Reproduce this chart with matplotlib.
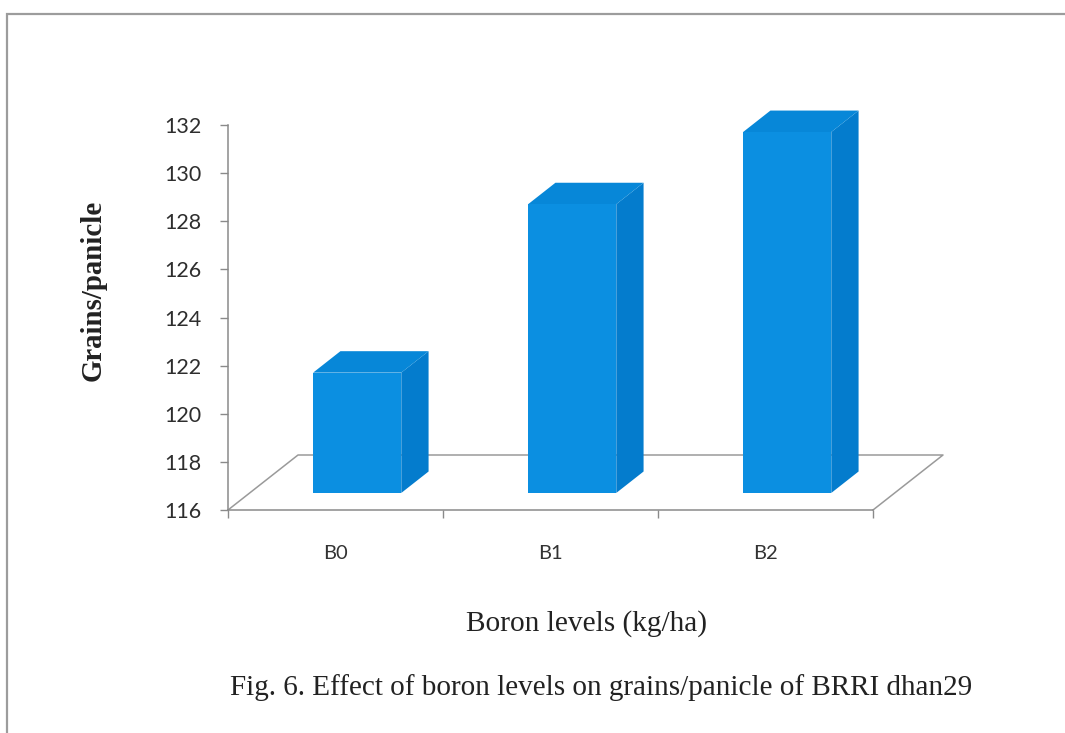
import matplotlib
matplotlib.use("Agg")
import matplotlib.pyplot as plt
from matplotlib.patches import Rectangle
import matplotlib.transforms as mtransforms
import numpy as np

# Data
categories = ["B0", "B1", "B2"]
grains_per_panicle = [121, 128, 131]
y_ticks = [116, 118, 120, 122, 124, 126, 128, 130, 132]
BASE = 116

# Colours
FRONT = "#0B8FE1"
SIDE = "#047CCD"
TOP = "#0787D8"
AXIS_GREY = "#8A8A8A"

W, H, DPI = 1065, 733, 100
fig = plt.figure(figsize=(W / DPI, H / DPI), dpi=DPI, facecolor="white")

# Axes rectangle (front floor edge to top tick)
ax_l, ax_r, ax_t, ax_b = 228, 873, 125, 510
ax = fig.add_axes([ax_l / W, 1 - ax_b / H, (ax_r - ax_l) / W, (ax_b - ax_t) / H])
ax.set_facecolor("none")
ax.set_xlim(-0.5, len(categories) - 0.5)
ax.set_ylim(BASE, 132)

# Depth of the pseudo-3D floor, in pixels (right, up)
DEPTH_DX, DEPTH_DY = 70, 55
BAR_FRONT, BAR_BACK = 0.31, 0.70
BAR_W = 0.41

px_x = (ax_r - ax_l) / (ax.get_xlim()[1] - ax.get_xlim()[0])
px_y = (ax_b - ax_t) / (ax.get_ylim()[1] - ax.get_ylim()[0])


def shift(x, y, d):
    """Move a data point back into the scene by depth fraction d."""
    return x + d * DEPTH_DX / px_x, y + d * DEPTH_DY / px_y


def depth_transform(d):
    return ax.transData + mtransforms.ScaledTranslation(
        d * DEPTH_DX / DPI, d * DEPTH_DY / DPI, fig.dpi_scale_trans)


x = np.arange(len(categories))
x0, x1 = ax.get_xlim()

# Floor outline
floor = [shift(x1, BASE, 0), shift(x1, BASE, 1), shift(x0, BASE, 1), shift(x0, BASE, 0)]
fx, fy = zip(*floor)
ax.plot(fx, fy, color="#9A9A9A", lw=1.1, clip_on=False, zorder=1)

# Bars: side and top faces, then the front face
for xi, v in zip(x, grains_per_panicle):
    xl, xr = xi - BAR_W / 2, xi + BAR_W / 2
    side = [shift(xr, BASE, BAR_FRONT), shift(xr, v, BAR_FRONT),
            shift(xr, v, BAR_BACK), shift(xr, BASE, BAR_BACK)]
    top = [shift(xl, v, BAR_FRONT), shift(xr, v, BAR_FRONT),
           shift(xr, v, BAR_BACK), shift(xl, v, BAR_BACK)]
    sx, sy = zip(*side)
    tx, ty = zip(*top)
    ax.fill(sx, sy, color=SIDE, lw=0, clip_on=False, zorder=2)
    ax.fill(tx, ty, color=TOP, lw=0, clip_on=False, zorder=2)

heights = [v - BASE for v in grains_per_panicle]
ax.bar(x, heights, bottom=BASE, width=BAR_W, color=FRONT, linewidth=0,
       transform=depth_transform(BAR_FRONT), clip_on=False, zorder=3)

# Axes styling
for s in ["top", "right"]:
    ax.spines[s].set_visible(False)
for s in ["left", "bottom"]:
    ax.spines[s].set_color(AXIS_GREY)
    ax.spines[s].set_linewidth(1.1)

ax.set_yticks(y_ticks)
ax.set_yticklabels([str(t) for t in y_ticks], fontfamily="Lato", fontsize=15.5,
                   color="#2E2E2E")
ax.tick_params(axis="y", direction="out", length=6, width=1.0, color=AXIS_GREY, pad=13)

ax.set_xticks(np.arange(-0.5, len(categories), 1.0))
ax.set_xticklabels([])
ax.tick_params(axis="x", which="major", direction="out", length=6, width=1.0,
               color=AXIS_GREY)
ax.set_xticks(x, minor=True)
ax.set_xticklabels(categories, minor=True, fontfamily="Lato", fontsize=14.5,
                   color="#333333")
ax.tick_params(axis="x", which="minor", length=0, pad=25)

# Titles and labels
fig.text(93 / W, 1 - 290 / H, "Grains/panicle", rotation=90, ha="center",
         va="center", fontfamily="Liberation Serif", fontweight="bold",
         fontsize=20.8, color="#222222")
fig.text(586 / W, 1 - 624 / H, "Boron levels (kg/ha)", ha="center", va="center",
         fontfamily="Liberation Serif", fontsize=21.2, color="#222222")
fig.text(601 / W, 1 - 688 / H,
         "Fig. 6. Effect of boron levels on grains/panicle of BRRI dhan29",
         ha="center", va="center", fontfamily="Liberation Serif", fontsize=21,
         color="#222222")

# Outer frame
fig.patches.append(Rectangle((7 / W, -0.05), 1.2, 1.05 - 14 / H,
                             transform=fig.transFigure, fill=False,
                             edgecolor="#9C9C9C", lw=1.6))

fig.savefig("out.png", dpi=DPI, facecolor="white")
